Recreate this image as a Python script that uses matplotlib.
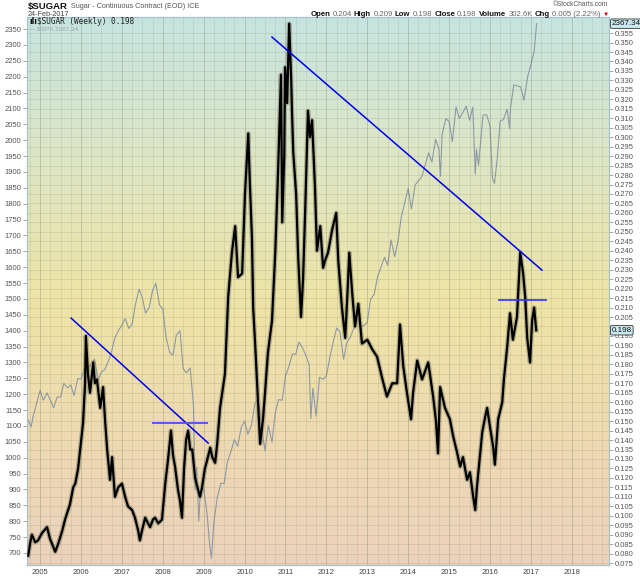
import numpy as np
import matplotlib
matplotlib.use("Agg")
import matplotlib.pyplot as plt
from matplotlib.colors import LinearSegmentedColormap

# ---------------- data ----------------
sugar_dates = [
    2004.71, 2004.76, 2004.80, 2004.88, 2004.95, 2005.05, 2005.17, 2005.24, 2005.37, 2005.44,
    2005.54, 2005.61, 2005.73, 2005.81, 2005.86, 2005.93, 2005.98, 2006.05, 2006.10, 2006.12,
    2006.17, 2006.22, 2006.30, 2006.34, 2006.39, 2006.47, 2006.54, 2006.59, 2006.64, 2006.71,
    2006.76, 2006.83, 2006.91, 2007.00, 2007.08, 2007.15, 2007.25, 2007.32, 2007.40, 2007.44,
    2007.49, 2007.57, 2007.64, 2007.69, 2007.76, 2007.81, 2007.89, 2007.98, 2008.06, 2008.13,
    2008.20, 2008.25, 2008.30, 2008.37, 2008.42, 2008.47, 2008.52, 2008.57, 2008.62, 2008.67,
    2008.72, 2008.79, 2008.86, 2008.91, 2008.96, 2009.03, 2009.08, 2009.16, 2009.21, 2009.28,
    2009.33, 2009.40, 2009.52, 2009.60, 2009.69, 2009.77, 2009.84, 2009.94, 2010.01, 2010.09,
    2010.13, 2010.18, 2010.21, 2010.26, 2010.31, 2010.38, 2010.45, 2010.50, 2010.57, 2010.67,
    2010.75, 2010.82, 2010.89, 2010.92, 2010.97, 2010.99, 2011.04, 2011.09, 2011.14, 2011.16,
    2011.19, 2011.26, 2011.31, 2011.38, 2011.43, 2011.48, 2011.55, 2011.60, 2011.65, 2011.72,
    2011.77, 2011.85, 2011.92, 2011.97, 2012.04, 2012.14, 2012.24, 2012.29, 2012.38, 2012.46,
    2012.51, 2012.56, 2012.63, 2012.70, 2012.78, 2012.87, 2013.00, 2013.12, 2013.24, 2013.36,
    2013.48, 2013.61, 2013.73, 2013.80, 2013.88, 2013.97, 2014.07, 2014.12, 2014.22, 2014.34,
    2014.49, 2014.61, 2014.68, 2014.73, 2014.78, 2014.90, 2015.02, 2015.10, 2015.20, 2015.27,
    2015.34, 2015.44, 2015.51, 2015.59, 2015.64, 2015.68, 2015.76, 2015.81, 2015.88, 2015.93,
    2016.00, 2016.08, 2016.12, 2016.20, 2016.30, 2016.34, 2016.42, 2016.49, 2016.56, 2016.66,
    2016.74, 2016.81, 2016.86, 2016.91, 2016.98, 2017.03, 2017.08, 2017.13,
]
sugar_values = [
    0.079, 0.086, 0.090, 0.086, 0.087, 0.091, 0.094, 0.088, 0.081, 0.085,
    0.092, 0.098, 0.106, 0.115, 0.117, 0.125, 0.135, 0.149, 0.170, 0.195,
    0.175, 0.165, 0.181, 0.170, 0.172, 0.157, 0.168, 0.150, 0.135, 0.119,
    0.131, 0.110, 0.115, 0.117, 0.110, 0.105, 0.103, 0.099, 0.092, 0.087,
    0.092, 0.099, 0.096, 0.094, 0.098, 0.099, 0.096, 0.098, 0.117, 0.130,
    0.145, 0.132, 0.126, 0.114, 0.108, 0.099, 0.125, 0.140, 0.145, 0.135,
    0.135, 0.120, 0.114, 0.110, 0.115, 0.125, 0.129, 0.136, 0.131, 0.128,
    0.138, 0.157, 0.175, 0.216, 0.239, 0.253, 0.226, 0.228, 0.270, 0.302,
    0.275, 0.247, 0.210, 0.190, 0.168, 0.138, 0.151, 0.165, 0.186, 0.203,
    0.239, 0.283, 0.333, 0.255, 0.290, 0.337, 0.318, 0.360, 0.330, 0.313,
    0.292, 0.270, 0.237, 0.205, 0.225, 0.260, 0.314, 0.300, 0.309, 0.274,
    0.240, 0.253, 0.231, 0.235, 0.239, 0.251, 0.260, 0.235, 0.210, 0.194,
    0.215, 0.239, 0.218, 0.200, 0.212, 0.191, 0.193, 0.188, 0.184, 0.173,
    0.163, 0.170, 0.170, 0.201, 0.179, 0.165, 0.151, 0.165, 0.182, 0.172,
    0.181, 0.163, 0.150, 0.133, 0.168, 0.157, 0.151, 0.142, 0.133, 0.126,
    0.131, 0.119, 0.123, 0.110, 0.103, 0.115, 0.133, 0.144, 0.152, 0.157,
    0.147, 0.136, 0.127, 0.151, 0.160, 0.172, 0.189, 0.207, 0.193, 0.205,
    0.239, 0.228, 0.216, 0.194, 0.181, 0.203, 0.210, 0.198,
]

spx_dates = [
    2004.71, 2004.78, 2004.83, 2004.92, 2005.00, 2005.08, 2005.17, 2005.25, 2005.33, 2005.42,
    2005.50, 2005.58, 2005.67, 2005.75, 2005.83, 2005.92, 2006.00, 2006.08, 2006.17, 2006.25,
    2006.33, 2006.42, 2006.50, 2006.58, 2006.67, 2006.75, 2006.83, 2006.92, 2007.00, 2007.08,
    2007.17, 2007.25, 2007.33, 2007.42, 2007.50, 2007.58, 2007.67, 2007.75, 2007.83, 2007.92,
    2008.00, 2008.08, 2008.17, 2008.25, 2008.33, 2008.42, 2008.50, 2008.58, 2008.67, 2008.75,
    2008.79, 2008.83, 2008.88, 2008.92, 2009.00, 2009.08, 2009.14, 2009.19, 2009.25, 2009.33,
    2009.42, 2009.50, 2009.58, 2009.67, 2009.75, 2009.83, 2009.92, 2010.00, 2010.08, 2010.17,
    2010.25, 2010.33, 2010.42, 2010.50, 2010.58, 2010.67, 2010.75, 2010.83, 2010.92, 2011.00,
    2011.08, 2011.17, 2011.25, 2011.33, 2011.42, 2011.50, 2011.58, 2011.62, 2011.67, 2011.75,
    2011.83, 2011.92, 2012.00, 2012.08, 2012.17, 2012.25, 2012.33, 2012.42, 2012.50, 2012.58,
    2012.67, 2012.75, 2012.83, 2012.92, 2013.00, 2013.08, 2013.17, 2013.25, 2013.33, 2013.42,
    2013.50, 2013.58, 2013.67, 2013.75, 2013.83, 2013.92, 2014.00, 2014.08, 2014.17, 2014.25,
    2014.33, 2014.42, 2014.50, 2014.58, 2014.67, 2014.75, 2014.79, 2014.83, 2014.92, 2015.00,
    2015.08, 2015.17, 2015.25, 2015.33, 2015.42, 2015.50, 2015.58, 2015.64, 2015.67, 2015.72,
    2015.83, 2015.92, 2016.00, 2016.06, 2016.11, 2016.17, 2016.25, 2016.33, 2016.42, 2016.48,
    2016.50, 2016.58, 2016.67, 2016.75, 2016.83, 2016.92, 2017.00, 2017.08, 2017.14,
]
spx_values = [
    1119, 1097, 1130, 1174, 1212, 1181, 1204, 1181, 1157, 1191,
    1191, 1234, 1220, 1229, 1196, 1249, 1248, 1280, 1281, 1295,
    1311, 1245, 1270, 1277, 1304, 1336, 1378, 1401, 1418, 1438,
    1407, 1421, 1482, 1531, 1503, 1455, 1474, 1527, 1549, 1481,
    1468, 1379, 1331, 1323, 1386, 1400, 1280, 1267, 1283, 1165,
    899, 969, 800, 896, 903, 826, 735, 683, 798, 873,
    919, 919, 987, 1021, 1057, 1036, 1096, 1115, 1074, 1104,
    1169, 1187, 1089, 1022, 1102, 1049, 1141, 1183, 1181, 1258,
    1286, 1327, 1326, 1364, 1345, 1321, 1292, 1123, 1219, 1131,
    1253, 1247, 1258, 1312, 1366, 1408, 1398, 1310, 1362, 1379,
    1407, 1441, 1412, 1416, 1426, 1498, 1515, 1569, 1598, 1631,
    1606, 1686, 1633, 1682, 1757, 1806, 1848, 1783, 1859, 1872,
    1884, 1924, 1960, 1931, 2003, 1972, 1886, 2018, 2068, 2059,
    1995, 2105, 2068, 2086, 2107, 2063, 2104, 1893, 1972, 1921,
    2079, 2080, 2044, 1880, 1864, 1932, 2060, 2065, 2097, 2037,
    2099, 2174, 2171, 2168, 2126, 2199, 2239, 2279, 2367,
]

# trend lines drawn by the chartist (date, sugar price)
trend_big = ([2010.67, 2017.27], [0.3529, 0.2298])
trend_small = ([2005.76, 2009.11], [0.2044, 0.1384])
hline_left = ([2007.76, 2009.08], [0.149, 0.149])
hline_right = ([2016.22, 2017.37], [0.2139, 0.2139])

years = list(range(2005, 2019))
spx_ticks = list(range(700, 2351, 50))
sugar_ticks = [round(0.075 + 0.005 * i, 3) for i in range(57)]
sugar_last_label = "0.198"
spx_last_label = "2367.34"

# ---------------- figure ----------------
W, H = 640, 576
fig = plt.figure(figsize=(W / 100, H / 100), dpi=100)
fig.patch.set_facecolor("white")
L, R, B, T = 27, 609, 565, 17
ax = fig.add_axes([L / W, 1 - B / H, (R - L) / W, (B - T) / H])
ax2 = ax.twinx()

ax.set_xlim(2004.68, 2018.91)
ax.set_ylim(662, 2388)
ax2.set_ylim(0.0740, 0.3635)

# background gradient
cmap = LinearSegmentedColormap.from_list(
    "bg",
    [(0.0, "#ecd2bc"), (0.22, "#eed9b2"), (0.48, "#eee4a6"),
     (0.75, "#dde6c6"), (1.0, "#c6e4e0")])
grad = np.linspace(0, 1, 256).reshape(-1, 1)
ax.imshow(grad, extent=[0, 1, 0, 1], transform=ax.transAxes, origin="lower",
          cmap=cmap, aspect="auto", zorder=0)

# grid
grid_c = "#6e7a60"
for v in sugar_ticks:
    ax2.axhline(v, color=grid_c, alpha=0.18, lw=0.6, zorder=0.5)
for yr in years + [2019]:
    for q in range(4):
        xq = yr - 1 + q * 0.25
        ax2.axvline(xq, color=grid_c, alpha=0.30 if q == 0 else 0.17,
                    lw=0.7 if q == 0 else 0.6, zorder=0.5)

# SPX line (left axis)
ax.plot(spx_dates, spx_values, color="#8e9aa6", lw=0.8, zorder=2)

# Sugar (right axis)
ax2.plot(sugar_dates, sugar_values, color="#86856a", lw=3.4, alpha=0.55,
         zorder=3)
ax2.plot(sugar_dates, sugar_values, color="black", lw=1.6, zorder=4)

# trend lines
ax2.plot(*trend_big, color="#0000ee", lw=1.1, zorder=5)
ax2.plot(*trend_small, color="#0000ee", lw=1.1, zorder=5)
ax2.plot(*hline_left, color="#5858f0", lw=1.4, zorder=5)
ax2.plot(*hline_right, color="#3030ff", lw=1.2, zorder=5)

# axes styling
spine_col = "#a6c2cf"
for a in (ax, ax2):
    for s in a.spines.values():
        s.set_color(spine_col)
        s.set_linewidth(0.8)
ax.set_xticks(years)
ax.set_xticklabels([str(y) for y in years])
ax.tick_params(axis="x", length=0, labelsize=5.5, labelcolor="#444444", pad=3)
ax.set_yticks(spx_ticks)
ax.set_yticklabels([str(v) for v in spx_ticks])
ax.tick_params(axis="y", length=3, width=0.6, color="#999999", labelsize=5.5,
               labelcolor="#555555", pad=1)
ax2.set_yticks(sugar_ticks)
# the 0.200 label sits under the last-value box in the reference
ax2.set_yticklabels(["" if abs(v - 0.200) < 1e-9 else "%.3f" % v for v in sugar_ticks])
ax2.tick_params(axis="y", length=3, width=0.6, color="#999999", labelsize=5.5,
                labelcolor="#555555", pad=1)
ax.set_xlim(2004.68, 2018.91)
for lab in ax.get_yticklabels() + ax2.get_yticklabels() + ax.get_xticklabels():
    lab.set_fontfamily("Liberation Sans")

# right-side value boxes
box = dict(boxstyle="round,pad=0.15", fc="#c9e9ef", ec="#333333", lw=0.6)
ax.annotate(spx_last_label, xy=(1.0, spx_values[-1]), xycoords=("axes fraction", "data"),
            xytext=(2, 0), textcoords="offset points", va="center", ha="left",
            fontsize=5.8, color="#111111", bbox=box, family="Liberation Sans",
            annotation_clip=False, zorder=10)
ax2.annotate(sugar_last_label, xy=(1.0, sugar_values[-1]), xycoords=("axes fraction", "data"),
             xytext=(2, 0), textcoords="offset points", va="center", ha="left",
             fontsize=5.8, color="#111111", bbox=box, family="Liberation Sans",
             annotation_clip=False, zorder=10)

# ---------------- header texts ----------------
def px(x, y):
    return x / W, 1 - y / H

fig.canvas.draw()
renderer = fig.canvas.get_renderer()

def seq_text(x_px, y_px, parts, ha="left", gap=2.0):
    objs, widths = [], []
    for s, wgt, col, fs in parts:
        t = fig.text(0, 0, s, fontsize=fs, weight=wgt, color=col, va="center",
                     ha="left", family=["Liberation Sans", "DejaVu Sans"])
        bb = t.get_window_extent(renderer=renderer)
        objs.append(t)
        widths.append(bb.width)
    total = sum(widths) + gap * (len(parts) - 1)
    start = x_px - total if ha == "right" else x_px
    for t, w in zip(objs, widths):
        t.set_position(px(start, y_px))
        start += w + gap

seq_text(28, 6, [("$SUGAR", "bold", "#111111", 6.8),
                 ("Sugar - Continuous Contract (EOD) ICE", "normal", "#555555", 5.2)], gap=3)
fig.text(*px(28, 14), "24-Feb-2017", fontsize=5.2, color="#444444", va="center",
         family="Liberation Sans")
fig.text(*px(608, 5), "©StockCharts.com", fontsize=4.8, color="#555555", va="center",
         ha="right", family="Liberation Sans")
bold_c, val_c, fs = "#111111", "#666666", 5.6
seq_text(609, 14, [("Open", "bold", bold_c, fs), ("0.204", "normal", val_c, fs),
                   ("High", "bold", bold_c, fs), ("0.209", "normal", val_c, fs),
                   ("Low", "bold", bold_c, fs), ("0.198", "normal", val_c, fs),
                   ("Close", "bold", bold_c, fs), ("0.198", "normal", val_c, fs),
                   ("Volume", "bold", bold_c, fs), ("302.6K", "normal", val_c, fs),
                   ("Chg", "bold", bold_c, fs), ("0.005 (2.22%)", "normal", val_c, fs),
                   ("▼", "normal", "#cc0000", 4.5)], ha="right", gap=2.2)

# in-chart legend
fig.text(*px(29, 22), "ılı", fontsize=5.5, weight="bold", color="#111111", va="center",
         family="DejaVu Sans")
fig.text(*px(37, 22), "$SUGAR (Weekly) 0.198", fontsize=5.6, color="#222222",
         va="center", family="DejaVu Sans Mono")
fig.text(*px(29, 29), "— $SPX 2367.34", fontsize=4.6, color="#94a2ae", va="center",
         family="Liberation Sans")

fig.savefig("out.png", dpi=100, facecolor="white")
